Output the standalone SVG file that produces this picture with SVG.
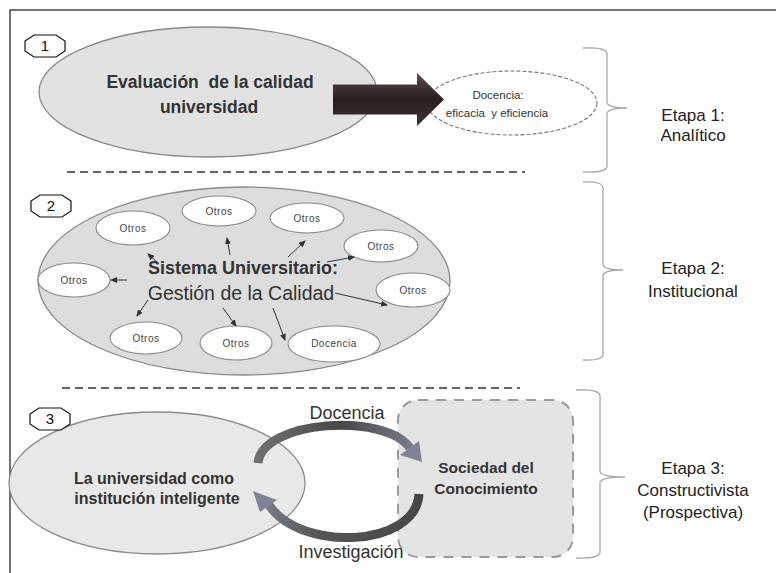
<svg xmlns="http://www.w3.org/2000/svg" xmlns:xlink="http://www.w3.org/1999/xlink" width="776" height="573" viewBox="0 0 776 573">
<style>
  .frame { fill: none; stroke: #444; stroke-width: 1.5; }
  .sep { stroke: #333; stroke-width: 1.5; stroke-dasharray: 8 5; fill: none; }
  .brace { fill: none; stroke: #a8a8a8; stroke-width: 1.3; }
  .big { stroke: #8a8a8a; stroke-width: 1.3; }
  .small { fill: #fff; stroke: #8a8a8a; stroke-width: 1.1; }
  .oct { fill: #fff; stroke: #111; stroke-width: 1.2; }
  .num { font-family: "Liberation Sans", Arial, sans-serif; font-size: 15px; fill: #111; text-anchor: middle; }
  .bold { font-family: "Liberation Sans", Arial, sans-serif; font-weight: bold; fill: #333; text-anchor: middle; }
  .reg { font-family: "Liberation Sans", Arial, sans-serif; fill: #333; text-anchor: middle; }
  .tiny { font-family: "Liberation Sans", Arial, sans-serif; font-size: 10px; letter-spacing: 0.5px; fill: #444; text-anchor: middle; }
  .stage { font-family: "Liberation Sans", Arial, sans-serif; font-size: 17px; fill: #222; text-anchor: middle; }
  .conn { stroke: #333; stroke-width: 1; fill: none; marker-end: url(#ah); }
</style>
<defs>
  <marker id="ah" markerWidth="7" markerHeight="6" refX="6" refY="3" orient="auto" markerUnits="userSpaceOnUse">
    <path d="M0,0 L7,3 L0,6 z" fill="#333"/>
  </marker>
  <polygon id="octShape" points="-11,-11 11,-11 20,-5 20,5 11,11 -11,11 -20,5 -20,-5"/>
  <linearGradient id="bigArrow" x1="0" y1="0" x2="0" y2="1">
    <stop offset="0" stop-color="#5e4c4c"/>
    <stop offset="0.5" stop-color="#2a1e1e"/>
    <stop offset="1" stop-color="#3e3232"/>
  </linearGradient>
  <linearGradient id="arcTop" gradientUnits="userSpaceOnUse" x1="258" y1="0" x2="424" y2="0">
    <stop offset="0" stop-color="#707070"/>
    <stop offset="0.5" stop-color="#474747"/>
    <stop offset="1" stop-color="#7d8594"/>
  </linearGradient>
  <linearGradient id="arcBot" gradientUnits="userSpaceOnUse" x1="420" y1="0" x2="252" y2="0">
    <stop offset="0" stop-color="#474747"/>
    <stop offset="0.6" stop-color="#555"/>
    <stop offset="1" stop-color="#7d8594"/>
  </linearGradient>
</defs>

<rect width="776" height="573" fill="#fff"/>
<!-- frame -->
<path class="frame" d="M10,573 L10,10 L776,10"/>

<!-- separators -->
<line class="sep" x1="67" y1="172" x2="525" y2="172"/>
<line class="sep" x1="62" y1="388" x2="520" y2="388"/>

<!-- braces -->
<g id="braces">
  <path class="brace" d="M583,48 Q607,47 607,54 L607,102 Q607,108 627,108 Q607,108 607,114 L607,166 Q607,173 583,172"/>
  <path class="brace" d="M583,182 Q603,181 603,188 L603,264 Q603,270 623,270 Q603,270 603,276 L603,354 Q603,361 583,360"/>
  <path class="brace" d="M576,390 Q600,389 600,396 L600,471 Q600,477 625,477 Q600,477 600,483 L600,552 Q600,559 576,558"/>
</g>

<!-- Section 1 -->
<g id="n1-evaluacion">
  <ellipse class="big" cx="208" cy="92" rx="169" ry="65" fill="#e2e2e2"/>
  <text class="bold" font-size="17.5" x="210" y="88" xml:space="preserve">Evaluación  de la calidad</text>
  <text class="bold" font-size="17.5" x="209" y="113">universidad</text>
</g>
<g id="n1-docencia">
  <ellipse cx="512" cy="103" rx="85" ry="32" fill="#fff" stroke="#777" stroke-width="1.1" stroke-dasharray="4 2"/>
  <text class="reg" font-size="11.5" x="498" y="99" fill="#444">Docencia:</text>
  <text class="reg" font-size="11.5" x="497" y="117" fill="#444" xml:space="preserve">eficacia  y eficiencia</text>
</g>
<g id="badge1"><use xlink:href="#octShape" class="oct" x="45" y="46"/><text class="num" x="45" y="51">1</text></g>
<g id="stage1">
  <text class="stage" x="693" y="121">Etapa 1:</text>
  <text class="stage" x="693" y="141">Analítico</text>
</g>

<!-- Section 2 -->
<g id="n2-sistema">
  <ellipse class="big" cx="244" cy="281" rx="206" ry="94" fill="#dddddd"/>
  <text class="bold" font-size="18" x="243" y="274">Sistema Universitario:</text>
  <text class="reg" font-size="19.5" x="241" y="300" fill="#333">Gestión de la Calidad</text>
</g>
<g id="n2-otros-a"><ellipse class="small" cx="133" cy="228" rx="37" ry="17"/><text class="tiny" x="133" y="231.5">Otros</text></g>
<g id="n2-otros-b"><ellipse class="small" cx="219" cy="211" rx="37" ry="15"/><text class="tiny" x="219" y="214.5">Otros</text></g>
<g id="n2-otros-c"><ellipse class="small" cx="307" cy="218" rx="37" ry="15"/><text class="tiny" x="307" y="221.5">Otros</text></g>
<g id="n2-otros-d"><ellipse class="small" cx="381" cy="246" rx="37" ry="16"/><text class="tiny" x="381" y="249.5">Otros</text></g>
<g id="n2-otros-e"><ellipse class="small" cx="413" cy="290" rx="37" ry="17"/><text class="tiny" x="413" y="293.5">Otros</text></g>
<g id="n2-otros-f"><ellipse class="small" cx="74" cy="280" rx="36" ry="17"/><text class="tiny" x="74" y="283.5">Otros</text></g>
<g id="n2-otros-g"><ellipse class="small" cx="146" cy="338" rx="36" ry="16"/><text class="tiny" x="146" y="341.5">Otros</text></g>
<g id="n2-otros-h"><ellipse class="small" cx="236" cy="343" rx="36" ry="17"/><text class="tiny" x="236" y="346.5">Otros</text></g>
<g id="n2-docencia"><ellipse class="small" cx="334" cy="344" rx="46" ry="18"/><text class="tiny" font-size="9" x="334" y="347">Docencia</text></g>
<g id="badge2"><use xlink:href="#octShape" class="oct" x="51" y="206"/><text class="num" x="51" y="211">2</text></g>
<g id="stage2">
  <text class="stage" x="693" y="274">Etapa 2:</text>
  <text class="stage" x="693" y="297">Institucional</text>
</g>

<!-- Section 3 -->
<g id="n3-universidad">
  <ellipse class="big" cx="157" cy="483" rx="148" ry="71" fill="#e8e8e8"/>
  <text class="bold" font-size="16" x="154" y="484">La universidad como</text>
  <text class="bold" font-size="16" x="157" y="504">institución inteligente</text>
</g>
<g id="n3-sociedad">
  <rect x="398" y="400" width="175" height="157" rx="20" ry="20" fill="#e4e4e4" stroke="#9a9a9a" stroke-width="2" stroke-dasharray="10 8"/>
  <text class="bold" font-size="15.5" x="486" y="473">Sociedad del</text>
  <text class="bold" font-size="15.5" x="486" y="494">Conocimiento</text>
</g>
<g id="badge3"><use xlink:href="#octShape" class="oct" x="50" y="419"/><text class="num" x="50" y="424">3</text></g>
<g id="stage3">
  <text class="stage" x="693" y="474">Etapa 3:</text>
  <text class="stage" x="693" y="496">Constructivista</text>
  <text class="stage" x="693" y="518">(Prospectiva)</text>
</g>

<!-- connectors -->
<g id="connectors">
  <!-- big arrow section 1 -->
  <polygon points="333,84.5 417,84.5 417,73 444,99.5 417,126 417,114.5 333,114.5" fill="url(#bigArrow)"/>
  <!-- section 2 arrows -->
  <line class="conn" x1="230" y1="255" x2="227" y2="238"/>
  <line class="conn" x1="288" y1="257" x2="305" y2="241"/>
  <line class="conn" x1="327" y1="262" x2="354" y2="257"/>
  <line class="conn" x1="335" y1="293" x2="387" y2="305"/>
  <line class="conn" x1="273" y1="308" x2="285" y2="340"/>
  <line class="conn" x1="223" y1="308" x2="236" y2="326"/>
  <line class="conn" x1="148" y1="300" x2="137" y2="316"/>
  <line class="conn" x1="127" y1="280" x2="111" y2="280"/>
  <line class="conn" x1="157" y1="262" x2="148" y2="254"/>
  <!-- section 3 cycle -->
  <path d="M258,463 C262,420 385,412 410,448" fill="none" stroke="url(#arcTop)" stroke-width="9"/>
  <polygon points="400,455 419,441 422,462" fill="#7d8594"/>
  <path d="M419,494 C416,548 300,552 269,505" fill="none" stroke="url(#arcBot)" stroke-width="9"/>
  <polygon points="277,500 260,512 253,491" fill="#7d8594"/>
  <text class="reg" font-size="18" x="347" y="419">Docencia</text>
  <text class="reg" font-size="18" x="351" y="558">Investigación</text>
</g>
</svg>
